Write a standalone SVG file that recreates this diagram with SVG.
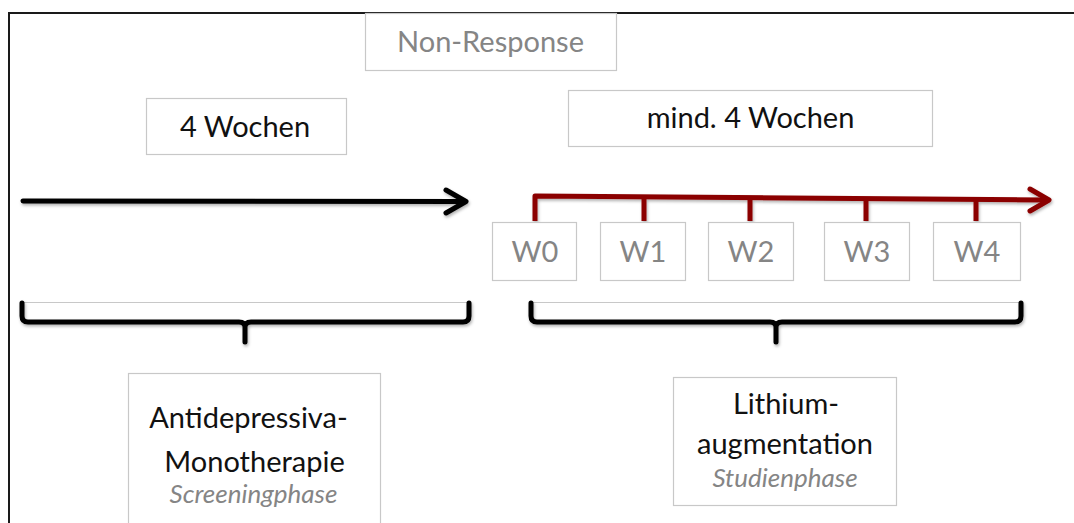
<svg xmlns="http://www.w3.org/2000/svg" width="1074" height="523" viewBox="0 0 1074 523">
  <style>
    .box { fill: #ffffff; stroke: #c8c8c8; stroke-width: 1.2; }
    .t { font-family: Lato, "Open Sans", "Liberation Sans", sans-serif; font-size: 29px; fill: #111111; text-anchor: middle; }
    .g { fill: #858585; }
    .sub { font-family: Lato, "Open Sans", "Liberation Sans", sans-serif; font-style: italic; font-size: 26px; fill: #858585; text-anchor: middle; }
    .brace { fill: none; stroke: #000000; stroke-width: 5; stroke-linecap: round; stroke-linejoin: round; }
    .faint { stroke: #c8c8c8; stroke-width: 1.2; }
  </style>
  <defs>
    <filter id="sh" x="-5%" y="-50%" width="110%" height="200%">
      <feDropShadow dx="1" dy="2" stdDeviation="1.5" flood-color="#000" flood-opacity="0.3"/>
    </filter>
  </defs>
  <rect x="0" y="0" width="1074" height="523" fill="#ffffff"/>
  <!-- frame -->
  <path d="M9,530 V13 H1080" fill="none" stroke="#1a1a1a" stroke-width="2"/>

  <g id="connectors">
    <!-- vertical divider -->
    <line x1="490.5" y1="71" x2="490.5" y2="499" stroke="#8a8a8a" stroke-width="4.5" filter="url(#sh)"/>
    <!-- black arrow -->
    <g filter="url(#sh)" fill="none" stroke="#000" stroke-width="5" stroke-linecap="round" stroke-linejoin="round">
      <line x1="23" y1="201" x2="464" y2="201.5"/>
      <polyline points="446,190 466,201.5 446,213"/>
    </g>
    <!-- red timeline -->
    <g filter="url(#sh)" fill="none" stroke="#8b0000" stroke-width="5" stroke-linejoin="round">
      <polyline points="535,221 535,196 1047,200"/>
      <polyline points="1030,189 1049,200 1030,211" stroke-linecap="round"/>
      <line x1="644" y1="197" x2="644" y2="221"/>
      <line x1="750" y1="198" x2="750" y2="221"/>
      <line x1="866" y1="199" x2="866" y2="221"/>
      <line x1="976" y1="199.5" x2="976" y2="221"/>
    </g>
    <!-- braces -->
    <line class="faint" x1="21" y1="302.5" x2="470" y2="302.5"/>
    <line class="faint" x1="530" y1="302.5" x2="1022" y2="302.5"/>
    <path class="brace" filter="url(#sh)" d="M22,303 V316 Q22,322 28,322 H239 Q245,322 245,327 Q245,322 251,322 H463 Q469,322 469,316 V303 M245,325 V342"/>
    <path class="brace" filter="url(#sh)" d="M531,303 V316 Q531,322 537,322 H770 Q776,322 776,327 Q776,322 782,322 H1015 Q1021,322 1021,316 V303 M776,325 V342"/>
  </g>

  <g id="non-response">
    <rect class="box" x="365.5" y="13.5" width="251" height="57"/>
    <text class="t g" x="490.5" y="52">Non-Response</text>
  </g>
  <g id="vier-wochen">
    <rect class="box" x="146.5" y="98.5" width="200" height="56"/>
    <text class="t" x="245" y="137">4 Wochen</text>
  </g>
  <g id="mind-vier-wochen">
    <rect class="box" x="568.5" y="90.5" width="364" height="56"/>
    <text class="t" x="750.5" y="128">mind. 4 Wochen</text>
  </g>
  <g id="w0">
    <rect class="box" x="492.5" y="222.5" width="84" height="58"/>
    <text class="t g" x="535" y="262">W0</text>
  </g>
  <g id="w1">
    <rect class="box" x="600.5" y="222.5" width="85" height="58"/>
    <text class="t g" x="643" y="262">W1</text>
  </g>
  <g id="w2">
    <rect class="box" x="708.5" y="222.5" width="85" height="58"/>
    <text class="t g" x="751" y="262">W2</text>
  </g>
  <g id="w3">
    <rect class="box" x="824.5" y="222.5" width="85" height="58"/>
    <text class="t g" x="867" y="262">W3</text>
  </g>
  <g id="w4">
    <rect class="box" x="933.5" y="222.5" width="87" height="58"/>
    <text class="t g" x="977" y="262">W4</text>
  </g>
  <g id="antidepressiva">
    <rect class="box" x="128.5" y="373.5" width="252" height="160"/>
    <text class="t" x="248.5" y="428">Antidepressiva-</text>
    <text class="t" x="254.5" y="472">Monotherapie</text>
    <text class="sub" x="253.5" y="503">Screeningphase</text>
  </g>
  <g id="lithium">
    <rect class="box" x="673.5" y="377.5" width="223" height="128"/>
    <text class="t" x="786" y="414">Lithium-</text>
    <text class="t" x="785" y="454">augmentation</text>
    <text class="sub" x="785" y="487">Studienphase</text>
  </g>
</svg>
